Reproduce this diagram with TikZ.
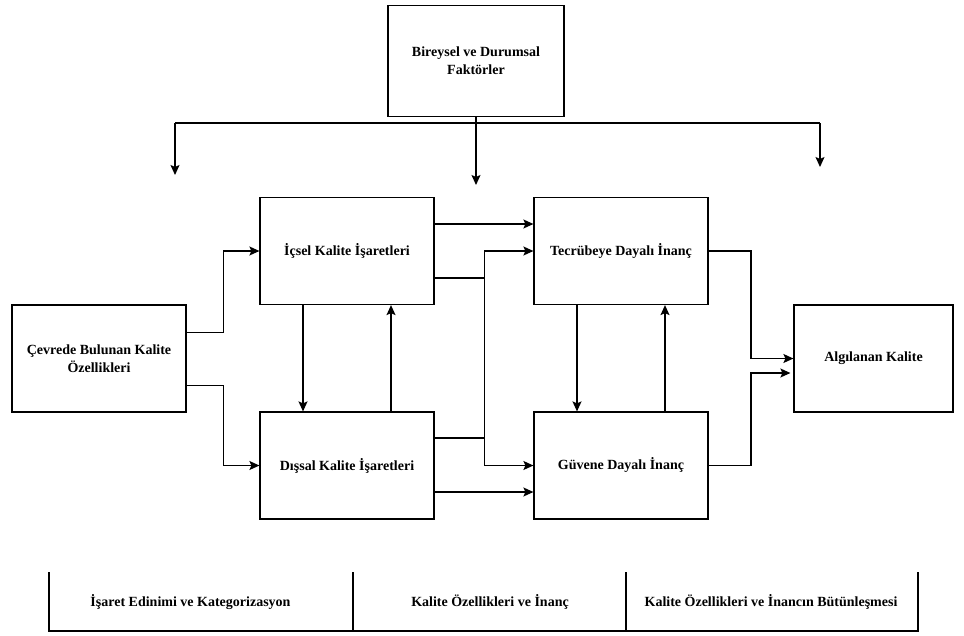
\documentclass[tikz,border=0pt]{standalone}
\usepackage{fontspec}
\setmainfont{Liberation Serif}
\usetikzlibrary{arrows.meta,calc,positioning}

\begin{document}
\begin{tikzpicture}[x=1pt,y=-1pt,>={Stealth[length=10pt,width=9pt,inset=2pt]},
  box/.style={draw,line width=1.2pt,align=center,inner sep=2pt,font=\bfseries\fontsize{14}{18}\selectfont},
  cue/.style={box,minimum width=174pt,minimum height=107pt},
  lbl/.style={font=\bfseries\fontsize{14}{18}\selectfont},
  link/.style={->,line width=1.3pt}]
  \useasboundingbox (0,0) rectangle (964,635);
  \node[box,minimum width=176pt,minimum height=111pt] (fak) at (476,61) {Bireysel ve Durumsal\\Faktörler};
  \node[cue] (cev) at (99,358.5) {Çevrede Bulunan Kalite\\Özellikleri};
  \node[cue] (ic) at (347,251) {İçsel Kalite İşaretleri};
  \node[cue] (dis) at (347,465.5) {Dışsal Kalite İşaretleri};
  \node[cue] (tec) at (621,251) {Tecrübeye Dayalı İnanç};
  \node[cue] (guv) at (621,465.5) {Güvene Dayalı İnanç};
  \node[box,minimum width=159pt,minimum height=107pt] (alg) at (873.5,358.5) {Algılanan Kalite};
  % factors line
  \coordinate (hl) at (175,123);
  \coordinate (hr) at (820,123);
  \coordinate (hlt) at (175,175);
  \coordinate (hmt) at (476,185);
  \coordinate (hrt) at (820,167);
  \draw[line width=2.8pt] (hl) -- (hr);
  \draw[link] (hl) -- (hlt);
  \draw[link] (fak.south) -- (hmt);
  \draw[link] (hr) -- (hrt);
  % cues
  \draw[link] ([yshift=26pt]cev.east) -- ++(37,0) |- (ic.west);
  \draw[link] ([yshift=-27pt]cev.east) -- ++(37,0) |- (dis.west);
  \draw[link] ([xshift=-44pt]ic.south) -- ([xshift=-44pt]dis.north);
  \draw[link] ([xshift=44pt]dis.north) -- ([xshift=44pt]ic.south);
  % beliefs
  \draw[link] ([yshift=27pt]ic.east) -- ([yshift=27pt]tec.west);
  \draw[link] ([yshift=-27pt]ic.east) -- ++(50,0) |- (guv.west);
  \draw[link] ([yshift=27.5pt]dis.east) -- ++(50,0) |- (tec.west);
  \draw[link] ([yshift=-26.5pt]dis.east) -- ([yshift=-26.5pt]guv.west);
  \draw[link] ([xshift=-44pt]tec.south) -- ([xshift=-44pt]guv.north);
  \draw[link] ([xshift=44pt]guv.north) -- ([xshift=44pt]tec.south);
  % perceived quality
  \draw[link] (tec.east) -- ++(42.5,0) |- (alg.west);
  \draw[link,shorten >=3pt] (guv.east) -- ++(42.5,0) |- ([yshift=-14.5pt]alg.west);
  % phases
  \foreach \x in {49,353,626,918}{\draw[line width=1.6pt] (\x,572) -- (\x,631);}
  \draw[line width=2.8pt] (48,631) -- (919,631);
  \foreach \x/\t [count=\i] in {190.5/İşaret Edinimi ve Kategorizasyon,490/Kalite Özellikleri ve İnanç,771/Kalite Özellikleri ve İnancın Bütünleşmesi}
    {\node[lbl] (ph\i) at (\x,602) {\t};}
\end{tikzpicture}
\end{document}
